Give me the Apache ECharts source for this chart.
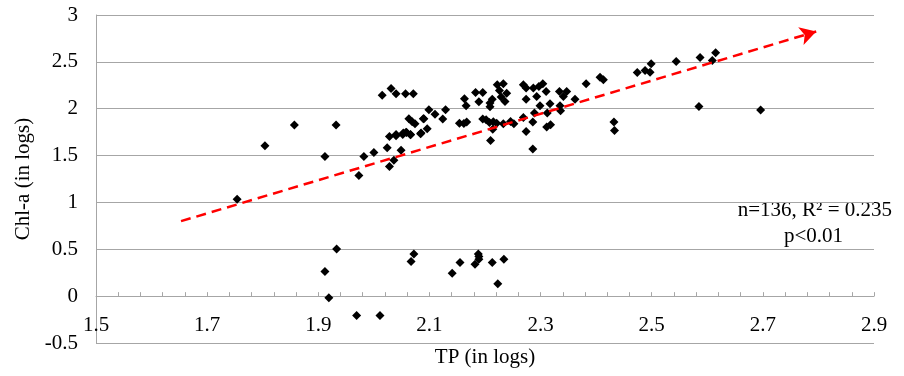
<!DOCTYPE html>
<html>
<head>
<meta charset="utf-8">
<script src="https://cdn.jsdelivr.net/npm/echarts@6/dist/echarts.min.js"></script>
<style>html,body{margin:0;padding:0;background:#fff;}#c{width:904px;height:376px;}</style>
</head>
<body>
<div id="c"></div>
<script>
// TP (in logs)
const tpValues = [
  1.754, 1.804, 1.857, 1.912, 1.932, 1.973, 1.982, 2.000, 2.015, 2.031,
  2.040, 2.057, 2.071, 2.024, 2.028, 2.028, 2.036, 2.040, 2.049, 2.053,
  2.059, 2.066, 2.063, 2.069, 2.074, 2.084, 2.089, 2.096, 2.099, 2.110,
  2.124, 2.129, 2.040, 2.052, 2.058, 2.066, 2.085, 2.090, 2.154, 2.162,
  2.167, 2.163, 2.166, 2.183, 2.196, 2.189, 2.196, 2.202, 2.208, 2.215,
  2.221, 2.214, 2.210, 2.209, 2.213, 2.209, 2.222, 2.226, 2.233, 2.229,
  2.239, 2.236, 2.233, 2.246, 2.252, 2.269, 2.274, 2.274, 2.269, 2.274,
  2.286, 2.286, 2.289, 2.287, 2.297, 2.304, 2.293, 2.299, 2.310, 2.312,
  2.317, 2.311, 2.318, 2.334, 2.347, 2.341, 2.335, 2.336, 2.362, 2.382,
  2.407, 2.413, 2.432, 2.433, 2.474, 2.488, 2.497, 2.499, 2.544, 2.587,
  2.585, 2.609, 2.615, 2.696,
  1.933, 1.912, 1.919, 1.969, 2.011, 2.072, 2.067, 2.141, 2.155, 2.182,
  2.188, 2.189, 2.189, 2.213, 2.223, 2.234
];
// Chl-a (in logs)
const chlValues = [
  1.035, 1.605, 1.825, 1.490, 1.825, 1.287, 1.490, 1.533, 2.145, 2.216,
  2.159, 2.159, 2.159, 1.583, 1.703, 1.383, 1.451, 1.711, 1.558, 1.740,
  1.746, 1.721, 1.892, 1.860, 1.839, 1.732, 1.892, 1.785, 1.988, 1.942,
  1.889, 1.988, 1.724, 1.724, 1.750, 1.724, 1.740, 1.892, 1.846, 1.842,
  1.857, 2.106, 2.031, 2.173, 2.173, 2.074, 1.889, 1.882, 1.853, 1.860,
  1.846, 1.782, 1.661, 2.060, 2.100, 2.020, 2.255, 2.194, 2.266, 2.124,
  2.166, 2.077, 1.839, 1.863, 1.839, 2.255, 2.220, 2.102, 1.906, 1.757,
  1.569, 1.857, 1.953, 2.220, 2.237, 2.266, 2.130, 2.031, 2.184, 1.953,
  2.052, 1.804, 1.828, 2.184, 2.184, 2.130, 2.031, 1.978, 2.102, 2.266,
  2.337, 2.308, 1.857, 1.767, 2.386, 2.408, 2.390, 2.479, 2.504, 2.547,
  2.024, 2.514, 2.597, 1.985,
  0.502, 0.263, -0.018, -0.207, -0.207, 0.451, 0.369, 0.245, 0.359, 0.341,
  0.451, 0.423, 0.395, 0.359, 0.131, 0.395
];
// Trend line (start, arrow end)
const trendStart = [1.653, 0.800];
const trendEnd = [2.796, 2.824];
// Axis ranges / ticks
const xMin = 1.5, xMax = 2.9, xStep = 0.2;
const yMin = -0.5, yMax = 3, yStep = 0.5;
const xName = 'TP (in logs)';
const yName = 'Chl-a (in logs)';
const statLine1 = 'n=136, R² = 0.235';
const statLine2 = 'p<0.01';

const points = tpValues.map((x, i) => [x, chlValues[i]]);
const font = 'Liberation Serif, Times New Roman, serif';
const gridColor = '#a6a6a6';
const fs = 21;

const chart = echarts.init(document.getElementById('c'), null, {renderer: 'canvas'});
chart.setOption({
  animation: false,
  backgroundColor: '#fff',
  grid: {left: 96, right: 30, top: 15, bottom: 33, containLabel: false, outerBoundsMode: 'none'},
  xAxis: {
    type: 'value', min: xMin, max: xMax, interval: xStep,
    name: xName, nameLocation: 'middle', nameGap: 4,
    nameTextStyle: {fontFamily: font, fontSize: fs, color: '#000', verticalAlign: 'top'},
    axisLine: {show: true, onZero: true, lineStyle: {color: gridColor, width: 1}},
    axisTick: {show: true, inside: true, length: 4, lineStyle: {color: gridColor}},
    minorTick: {show: true, splitNumber: 5, length: 4, lineStyle: {color: gridColor}},
    axisLabel: {fontFamily: font, fontSize: fs, color: '#000', margin: -28,
      formatter: v => (Math.round(v * 10) / 10).toFixed(1)},
    splitLine: {show: false}
  },
  yAxis: {
    type: 'value', min: yMin, max: yMax, interval: yStep,
    name: yName, nameLocation: 'middle', nameGap: 62,
    nameTextStyle: {fontFamily: font, fontSize: fs, color: '#000'},
    axisLine: {show: true, lineStyle: {color: gridColor, width: 1}},
    axisTick: {show: false},
    axisLabel: {fontFamily: font, fontSize: fs, color: '#000', margin: 18},
    splitLine: {show: true, lineStyle: {color: gridColor, width: 1}}
  },
  series: [{
    type: 'scatter',
    data: points,
    symbol: 'diamond',
    symbolSize: 9,
    itemStyle: {color: '#000', opacity: 1},
    z: 3,
    markLine: {
      silent: true,
      symbol: ['none', 'arrow'],
      symbolSize: [14, 16],
      label: {show: false},
      lineStyle: {color: '#ff0000', width: 2.5, type: [10, 6]},
      data: [[{coord: trendStart, symbol: 'none'}, {coord: trendEnd, symbol: 'arrow'}]]
    }
  }],
  graphic: [
    {type: 'text', right: 12, top: 200, style: {text: statLine1, font: fs + 'px ' + font, fill: '#000'}},
    {type: 'text', left: 784, top: 226, style: {text: statLine2, font: fs + 'px ' + font, fill: '#000'}}
  ]
});
</script>
</body>
</html>
